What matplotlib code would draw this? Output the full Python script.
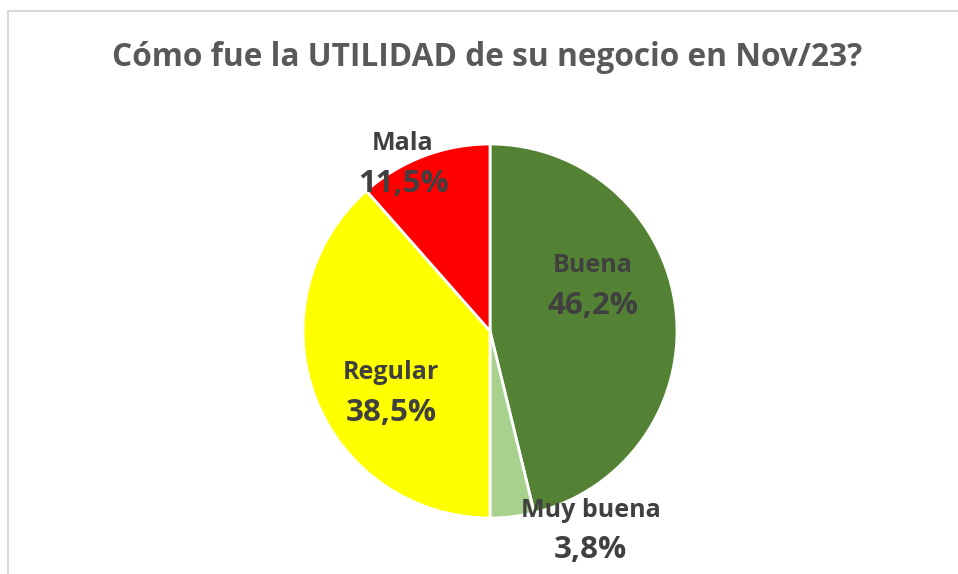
import matplotlib.pyplot as plt
from matplotlib.patches import Rectangle

plt.rcParams['font.family'] = ['Open Sans', 'DejaVu Sans']

labels = ['Buena', 'Muy buena', 'Regular', 'Mala']
values = [46.2, 3.8, 38.5, 11.5]
colors = ['#548235', '#A9D18E', '#FFFF00', '#FF0000']
# label centres relative to pie centre, in pie radii
label_pos = [(0.55, 0.242), (0.537, -1.065), (-0.53, -0.33), (-0.465, 0.895)]

W, H = 958, 574
fig = plt.figure(figsize=(W / 100, H / 100), dpi=100)

# chart frame (light gray, cut at right and bottom)
fig.add_artist(Rectangle((8 / W, -0.1), 1.2, (H - 11) / H + 0.1, transform=fig.transFigure,
                         fill=False, edgecolor='#D9D9D9', linewidth=1.5))

fig.text(487 / W, 1 - 57 / H, 'Cómo fue la UTILIDAD de su negocio en Nov/23?',
         ha='center', va='center', fontsize=22.8, fontweight='bold', color='#595959')

cx, cy, r = 490, 331, 187
ax = fig.add_axes([(cx - r) / W, (H - cy - r) / H, 2 * r / W, 2 * r / H])
ax.pie(values, colors=colors, startangle=90, counterclock=False, radius=1,
       wedgeprops=dict(edgecolor='white', linewidth=2))
ax.set_xlim(-1, 1)
ax.set_ylim(-1, 1)
ax.set_aspect('equal')
ax.axis('off')

for lab, val, (x, y) in zip(labels, values, label_pos):
    ax.text(x, y + 0.107, lab, ha='center', va='center', fontsize=18, fontweight='bold',
            color='#404040', clip_on=False)
    ax.text(x, y - 0.107, f'{val:.1f}%'.replace('.', ','), ha='center', va='center',
            fontsize=22.5, fontweight='bold', color='#404040', clip_on=False)

fig.savefig('out.png', dpi=100)
